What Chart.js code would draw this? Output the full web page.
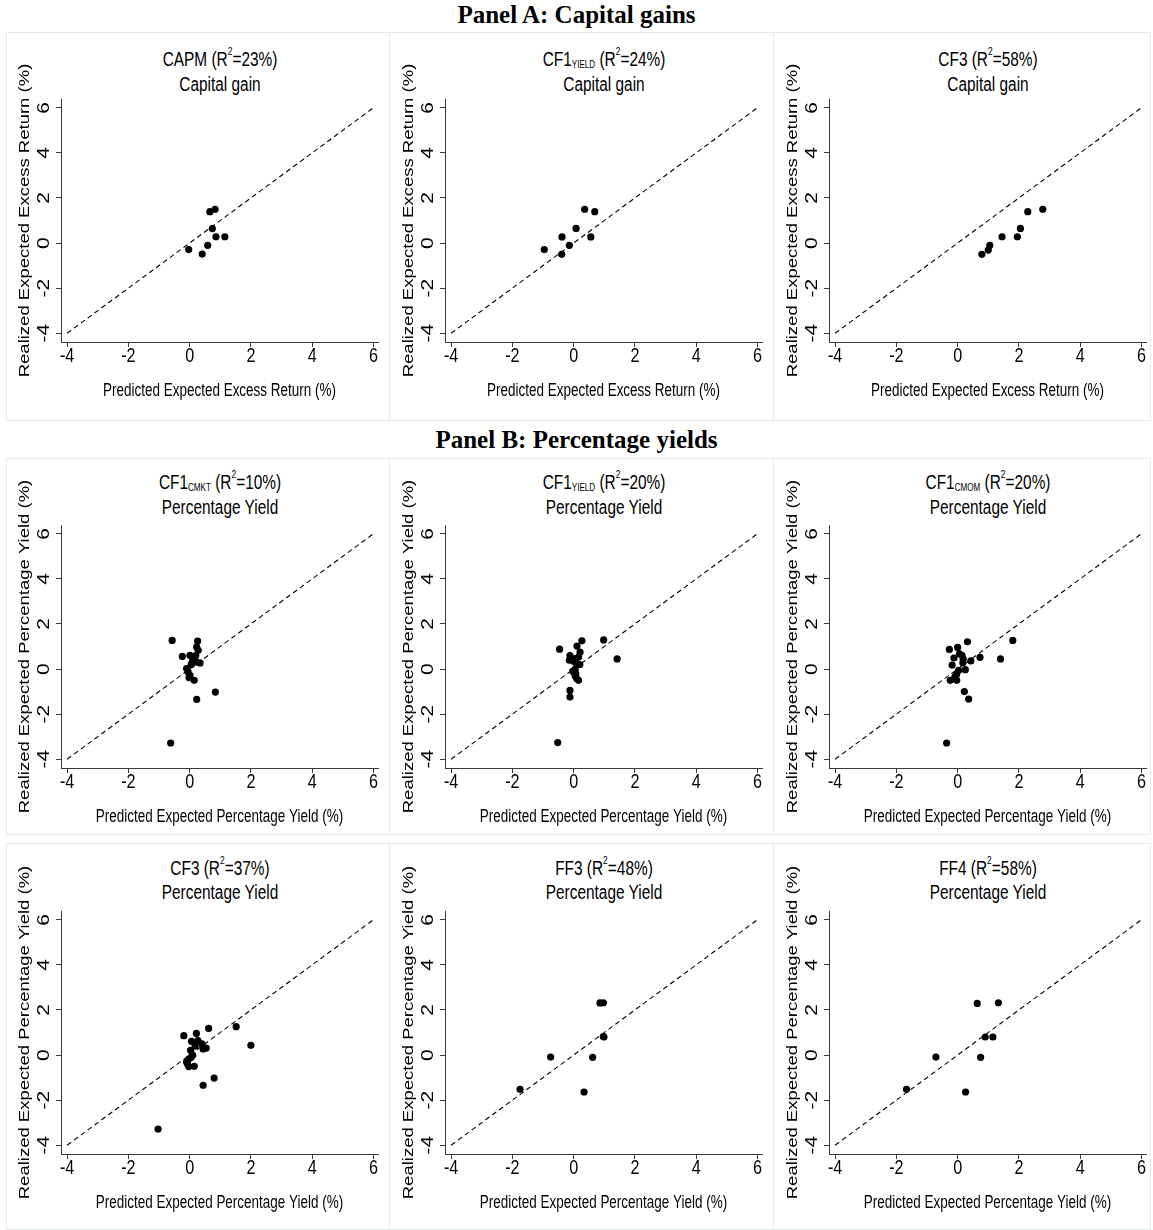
<!DOCTYPE html>
<html><head><meta charset="utf-8">
<script src="https://cdn.jsdelivr.net/npm/chart.js@4.4.1/dist/chart.umd.min.js"></script>
<style>
html,body{margin:0;padding:0;background:#fff;}
#wrap{position:relative;width:1153px;height:1230px;overflow:hidden;background:#fff;}
.hdr{position:absolute;left:0;width:1153px;text-align:center;font-family:'Liberation Serif','Times New Roman',serif;font-weight:bold;font-size:25px;line-height:28px;color:#000;}
.box{position:absolute;border:1px solid #e4ebec;box-sizing:border-box;}
.ttl{position:absolute;width:360px;text-align:center;font-family:'Liberation Sans',Arial,sans-serif;font-size:20px;line-height:22px;color:#000;white-space:nowrap;transform:scaleX(0.77);transform-origin:50% 50%;}
.sub{font-size:10.5px;vertical-align:-2px;line-height:0;}
.sup{font-size:11px;vertical-align:11px;line-height:0;}
.cv{position:absolute;}
</style></head>
<body><div id="wrap"></div>
<script>
// ---- tick labels / axis extents ----
const tickVals = [-4, -2, 0, 2, 4, 6];
const diagLine = [-4, 6];

// ---- Panel A: capital gains ----
const capmX   = [-0.03, 0.41, 0.59, 0.66, 0.83, 0.74, 0.86, 1.15];
const capmY   = [-0.29, -0.49, -0.10, 1.39, 1.50, 0.64, 0.28, 0.28];
const cf1yCgX = [-0.96, -0.39, -0.38, -0.14, 0.08, 0.36, 0.69, 0.56];
const cf1yCgY = [-0.29, -0.50, 0.27, -0.10, 0.65, 1.50, 1.39, 0.27];
const cf3CgX  = [0.79, 1.00, 1.05, 1.45, 1.95, 2.05, 2.29, 2.78];
const cf3CgY  = [-0.50, -0.31, -0.10, 0.28, 0.28, 0.65, 1.39, 1.50];

// ---- Panel B: percentage yields ----
const cmktX = [-0.57, 0.26, 0.23, 0.28, -0.24, 0.01, 0.12, 0.17, 0.23, 0.34, 0.06, -0.10, -0.05, 0.01, 0.15, 0.23, 0.84, -0.62, 0.10, 0.20, -0.02, 0.05];
const cmktY = [1.27, 1.24, 0.98, 0.83, 0.56, 0.61, 0.53, 0.39, 0.31, 0.27, 0.24, 0.02, -0.13, -0.28, -0.50, -1.35, -1.02, -3.28, 0.45, 0.60, -0.38, 0.20];
const yldX  = [-0.46, 0.27, 0.11, 0.98, -0.12, 0.21, 0.16, 0.05, 0.10, 0.05, 0.07, 0.10, 0.16, -0.12, -0.12, -0.52, 1.42, -0.14, 0.00, -0.03, 0.05, 0.20];
const yldY  = [0.88, 1.25, 1.02, 1.29, 0.60, 0.75, 0.53, 0.46, 0.24, 0.00, -0.20, -0.42, -0.50, -0.95, -1.24, -3.26, 0.45, 0.39, 0.35, -0.10, -0.30, 0.20];
const cmomX = [-0.27, -0.36, -0.24, -0.18, -0.12, -0.09, -0.04, -0.03, 0.00, 0.03, 0.06, 0.14, 0.18, 0.17, 0.25, 0.32, 0.22, 0.36, 0.43, 0.73, 1.40, 1.80];
const cmomY = [0.87, -3.28, -0.50, 0.18, 0.49, -0.35, -0.25, -0.50, 0.96, -0.06, 0.67, 0.61, 0.45, 0.28, -0.03, 1.21, -1.00, -1.33, 0.36, 0.52, 0.45, 1.27];
const cf3PyX = [-0.19, -1.03, 0.06, 0.22, 0.62, 0.27, 0.18, 0.40, 0.44, 0.54, 0.03, 0.10, -0.03, -0.10, -0.07, -0.03, 0.15, 0.44, 0.80, 1.52, 2.00, 0.05];
const cf3PyY = [0.86, -3.28, 0.61, 0.96, 1.18, 0.64, 0.39, 0.50, 0.27, 0.31, 0.21, -0.01, -0.18, -0.31, -0.40, -0.51, -0.50, -1.34, -1.02, 1.26, 0.43, -0.10];
const ff3X = [-1.75, -0.75, 0.34, 0.62, 0.86, 0.97, 0.99, 0.97];
const ff3Y = [-1.52, -0.09, -1.64, -0.10, 2.31, 2.32, 0.80, 0.82];
const ff4X = [-1.67, -0.71, 0.26, 0.75, 0.64, 1.33, 0.90, 1.15];
const ff4Y = [-1.52, -0.09, -1.64, -0.10, 2.29, 2.32, 0.80, 0.80];

// ---- text ----
const headerA = 'Panel A: Capital gains';
const headerB = 'Panel B: Percentage yields';
const xTitleCG = 'Predicted Expected Excess Return (%)';
const yTitleCG = 'Realized Expected Excess Return (%)';
const xTitlePY = 'Predicted Expected Percentage Yield (%)';
const yTitlePY = 'Realized Expected Percentage Yield (%)';
const subTitleCG = 'Capital gain';
const subTitlePY = 'Percentage Yield';

const panels = [
  {name:'CAPM', sub:'', r2:'23%', x:capmX, y:capmY, kind:'CG', col:0, row:0},
  {name:'CF1', sub:'YIELD', r2:'24%', x:cf1yCgX, y:cf1yCgY, kind:'CG', col:1, row:0},
  {name:'CF3', sub:'', r2:'58%', x:cf3CgX, y:cf3CgY, kind:'CG', col:2, row:0},
  {name:'CF1', sub:'CMKT', r2:'10%', x:cmktX, y:cmktY, kind:'PY', col:0, row:1},
  {name:'CF1', sub:'YIELD', r2:'20%', x:yldX, y:yldY, kind:'PY', col:1, row:1},
  {name:'CF1', sub:'CMOM', r2:'20%', x:cmomX, y:cmomY, kind:'PY', col:2, row:1},
  {name:'CF3', sub:'', r2:'37%', x:cf3PyX, y:cf3PyY, kind:'PY', col:0, row:2},
  {name:'FF3', sub:'', r2:'48%', x:ff3X, y:ff3Y, kind:'PY', col:1, row:2},
  {name:'FF4', sub:'', r2:'58%', x:ff4X, y:ff4Y, kind:'PY', col:2, row:2}
];

// ---- layout / style ----
const colLeft = [61, 445, 829];
const rowTop = [99, 525, 911];
const PLOT_W = 317, PLOT_H = 243;
const AXW = 61, AXH = 64, PAD_T = 60, PAD_R = 8;
const titleOff = [[-40, -15], [-43, -18], [-43, -19]];
const boxCols = [[6, 389], [389, 773], [773, 1150]];
const boxRows = [[32, 420], [458, 834], [843, 1229]];
const REG = "'Liberation Sans',Arial,sans-serif";
const SQ = 0.77;            // horizontal squeeze of the original graphic's lettering
const AX = '#3a3a3a';

const wrap = document.getElementById('wrap');
function el(tag, cls, css, html){const e=document.createElement(tag); if(cls)e.className=cls; Object.assign(e.style,css||{}); if(html!==undefined)e.innerHTML=html; wrap.appendChild(e); return e;}

el('div','hdr',{top:'1px'},headerA);
el('div','hdr',{top:'426px'},headerB);

boxRows.forEach(r=>boxCols.forEach(c=>{
  el('div','box',{left:c[0]+'px',top:r[0]+'px',width:(c[1]-c[0]+1)+'px',height:(r[1]-r[0]+1)+'px'});
}));

// draws axis titles and tick labels (Stata-like squeezed lettering) from the chart's own scales
const axisText = {
  id:'axisText',
  afterDraw(chart, args, o){
    const {ctx, chartArea:ca, scales:{x, y}} = chart;
    ctx.save();
    ctx.fillStyle = '#000';
    ctx.textAlign = 'center'; ctx.textBaseline = 'middle';
    ctx.font = '21px ' + REG;
    x.ticks.forEach(t=>{
      ctx.save(); ctx.translate(x.getPixelForValue(t.value), ca.bottom + 14.5); ctx.scale(SQ, 1);
      ctx.fillText(String(t.value), 0, 0); ctx.restore();
    });
    y.ticks.forEach(t=>{
      ctx.save(); ctx.translate(ca.left - 16.5, y.getPixelForValue(t.value)); ctx.rotate(-Math.PI/2); ctx.scale(1, SQ);
      ctx.fillText(String(t.value), 0, 0); ctx.restore();
    });
    ctx.font = '17.5px ' + REG;
    ctx.save(); ctx.translate((ca.left + ca.right)/2, ca.bottom + 49); ctx.scale(SQ, 1);
    ctx.fillText(o.xTitle, 0, 0); ctx.restore();
    ctx.font = '18.5px ' + REG;
    ctx.save(); ctx.translate(ca.left - 36, (ca.top + ca.bottom)/2); ctx.rotate(-Math.PI/2); ctx.scale(1, SQ);
    ctx.fillText(o.yTitle, 0, 0); ctx.restore();
    ctx.restore();
  }
};

panels.forEach(p=>{
  const L = colLeft[p.col], T = rowTop[p.row];
  const cx = L + PLOT_W/2;
  const line1 = p.name + (p.sub ? '<span class="sub">'+p.sub+'</span>' : '') + ' (R<span class="sup">2</span>=' + p.r2 + ')';
  el('div','ttl',{left:(cx-180)+'px', top:(T+titleOff[p.row][0]-11)+'px'}, line1);
  el('div','ttl',{left:(cx-180)+'px', top:(T+titleOff[p.row][1]-11)+'px'}, p.kind==='CG'?subTitleCG:subTitlePY);

  const cw = AXW + PLOT_W + PAD_R, ch = PAD_T + PLOT_H + AXH;
  const cv = el('canvas','cv',{left:(L-AXW)+'px', top:(T-PAD_T)+'px', width:cw+'px', height:ch+'px'});
  cv.width = cw; cv.height = ch;
  const pts = p.x.map((v,i)=>({x:v, y:p.y[i]}));
  new Chart(cv.getContext('2d'), {
    type:'scatter',
    data:{datasets:[
      {data:pts, backgroundColor:'#000', borderColor:'#000', pointRadius:3.6, pointBorderWidth:0, order:0},
      {type:'line', data:[{x:diagLine[0],y:diagLine[0]},{x:diagLine[1],y:diagLine[1]}], showLine:true,
       borderColor:'#000', borderWidth:1.1, borderDash:[5,3.5], pointRadius:0, fill:false, order:1}
    ]},
    plugins:[axisText],
    options:{
      responsive:false, animation:false, devicePixelRatio:1, events:[],
      layout:{padding:{left:0,right:PAD_R,top:PAD_T,bottom:0}},
      plugins:{legend:{display:false}, tooltip:{enabled:false}, title:{display:false},
        axisText:{xTitle:p.kind==='CG'?xTitleCG:xTitlePY, yTitle:p.kind==='CG'?yTitleCG:yTitlePY}},
      scales:{
        x:{type:'linear', position:'bottom', min:-4.2, max:6.15,
          afterBuildTicks:s=>{s.ticks = tickVals.map(v=>({value:v}));},
          afterFit:s=>{s.height = AXH; s.paddingLeft=0; s.paddingRight=0;},
          grid:{drawOnChartArea:false, drawTicks:true, tickLength:5, color:AX, lineWidth:1},
          border:{display:true, color:AX, width:1},
          ticks:{display:false, autoSkip:false},
          title:{display:false}
        },
        y:{type:'linear', position:'left', min:-4.39, max:6.39,
          afterBuildTicks:s=>{s.ticks = tickVals.map(v=>({value:v}));},
          afterFit:s=>{s.width = AXW; s.paddingTop=0; s.paddingBottom=0;},
          grid:{drawOnChartArea:false, drawTicks:true, tickLength:5, color:AX, lineWidth:1},
          border:{display:true, color:AX, width:1},
          ticks:{display:false, autoSkip:false},
          title:{display:false}
        }
      }
    }
  });
});
</script>
</body></html>
